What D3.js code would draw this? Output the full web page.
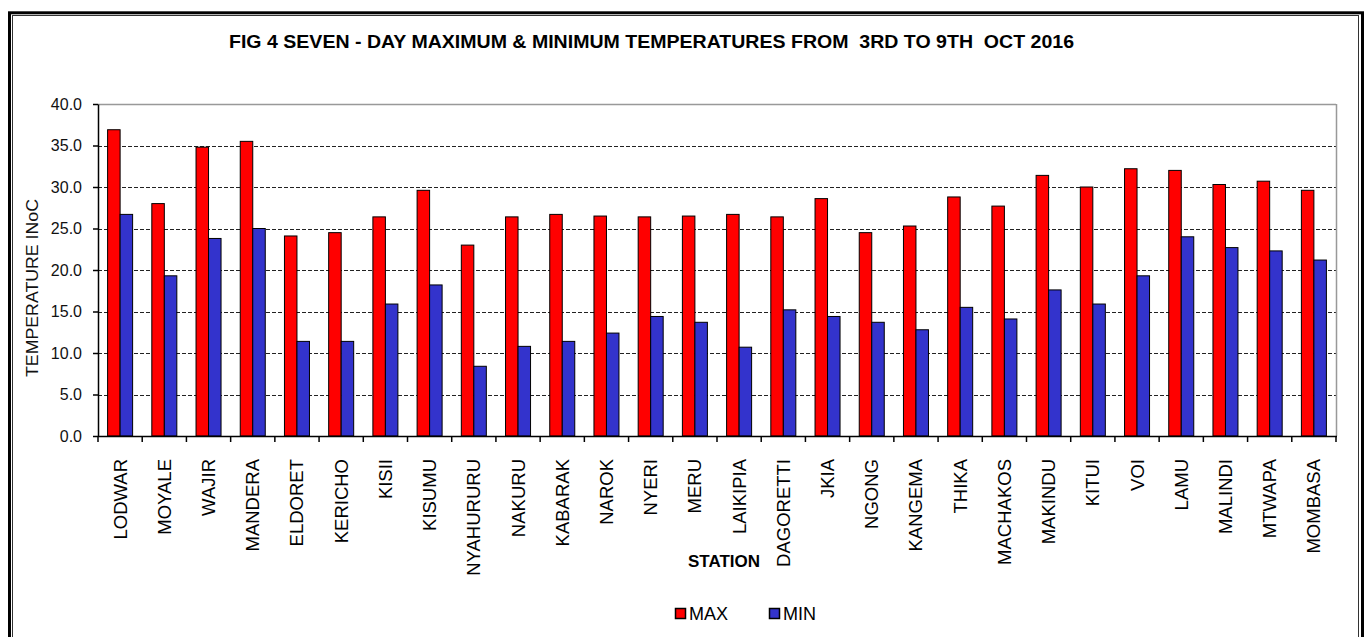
<!DOCTYPE html>
<html>
<head>
<meta charset="utf-8">
<script src="https://cdn.jsdelivr.net/npm/d3@7"></script>
<style>
  html, body { margin: 0; padding: 0; background: #fff; }
  svg { display: block; font-family: "Liberation Sans", Arial, sans-serif; }
</style>
</head>
<body>
<svg id="chart" width="1369" height="637"></svg>
<script>
// ---- data ----
const stations = ["LODWAR","MOYALE","WAJIR","MANDERA","ELDORET","KERICHO","KISII","KISUMU",
  "NYAHURURU","NAKURU","KABARAK","NAROK","NYERI","MERU","LAIKIPIA","DAGORETTI","JKIA",
  "NGONG","KANGEMA","THIKA","MACHAKOS","MAKINDU","KITUI","VOI","LAMU","MALINDI","MTWAPA","MOMBASA"];
const maxTemps = [36.9,28.0,34.8,35.5,24.1,24.5,26.4,29.6,23.0,26.4,26.7,26.5,26.4,26.5,26.7,26.4,
  28.6,24.5,25.3,28.8,27.7,31.4,30.0,32.2,32.0,30.3,30.7,29.6];
const minTemps = [26.7,19.3,23.8,25.0,11.4,11.4,15.9,18.2,8.4,10.8,11.4,12.4,14.4,13.7,10.7,15.2,
  14.4,13.7,12.8,15.5,14.1,17.6,15.9,19.3,24.0,22.7,22.3,21.2];
const seriesNames = ["MAX","MIN"];
const yTicks = [0,5,10,15,20,25,30,35,40];
const titleText = "FIG 4 SEVEN - DAY MAXIMUM & MINIMUM TEMPERATURES FROM  3RD TO 9TH  OCT 2016";
const yTitle = "TEMPERATURE INoC";
const xTitle = "STATION";

// ---- styles ----
const colors = {MAX: "#FF0000", MIN: "#3333CC"};

const svg = d3.select("#chart");
const L = 98, R = 1336, T = 104, B = 436;

// outer double border
svg.append("rect").attr("x", 9.5).attr("y", 12.8).attr("width", 1353).attr("height", 660)
  .attr("fill", "none").attr("stroke", "#000").attr("stroke-width", 3);
svg.append("rect").attr("x", 12.5).attr("y", 15.5).attr("width", 1346).attr("height", 660)
  .attr("fill", "none").attr("stroke", "#333").attr("stroke-width", 1);

const x0 = d3.scaleBand().domain(stations).range([L, R]).paddingInner(0).paddingOuter(0);
const x1 = d3.scaleBand().domain(seriesNames).range([0, x0.bandwidth()]).paddingInner(0).paddingOuter(0.768);
const y = d3.scaleLinear().domain([0, 40]).range([B, T]);

// gridlines
svg.append("g").selectAll("line").data(yTicks.filter(d => d > 0 && d < 40)).join("line")
  .attr("x1", L).attr("x2", R)
  .attr("y1", d => Math.round(y(d)) + 0.5).attr("y2", d => Math.round(y(d)) + 0.5)
  .attr("stroke", "#222").attr("stroke-width", 1.2).attr("stroke-dasharray", "4,2");

// top and right plot border
svg.append("line").attr("x1", L).attr("x2", R).attr("y1", T + 0.5).attr("y2", T + 0.5)
  .attr("stroke", "#999").attr("stroke-width", 1.5);
svg.append("line").attr("x1", R + 0.5).attr("x2", R + 0.5).attr("y1", T).attr("y2", B)
  .attr("stroke", "#999").attr("stroke-width", 1.5);

// bars
const rows = stations.map((s, i) => ({station: s, values: [
  {key: "MAX", value: maxTemps[i]}, {key: "MIN", value: minTemps[i]}]}));
const groups = svg.append("g").selectAll("g").data(rows).join("g")
  .attr("transform", d => `translate(${x0(d.station)},0)`);
groups.selectAll("rect").data(d => d.values).join("rect")
  .attr("x", d => x1(d.key))
  .attr("y", d => y(d.value))
  .attr("width", x1.bandwidth())
  .attr("height", d => B - y(d.value))
  .attr("fill", d => colors[d.key])
  .attr("stroke", "#000").attr("stroke-width", 1);

// left axis
const yAxis = d3.axisLeft(y).tickValues(yTicks).tickFormat(d3.format(".1f"))
  .tickSizeInner(5).tickSizeOuter(0).tickPadding(11);
const ya = svg.append("g").attr("transform", `translate(${L},0)`).call(yAxis);
ya.select(".domain").attr("stroke", "#000").attr("stroke-width", 1.5);
ya.selectAll(".tick line").attr("stroke", "#000").attr("stroke-width", 1.5);
ya.selectAll(".tick text").attr("font-size", 16).attr("fill", "#111")
  .attr("font-family", "'Liberation Sans', Arial, sans-serif");

// bottom axis line + boundary ticks
svg.append("line").attr("x1", L).attr("x2", R + 1).attr("y1", B + 0.5).attr("y2", B + 0.5)
  .attr("stroke", "#000").attr("stroke-width", 1.5);
const bounds = stations.map(s => x0(s)).concat([R]);
svg.append("g").selectAll("line").data(bounds).join("line")
  .attr("x1", d => d).attr("x2", d => d).attr("y1", B).attr("y2", B + 6)
  .attr("stroke", "#000").attr("stroke-width", 1.5);

// category labels
svg.append("g").selectAll("text").data(stations).join("text")
  .attr("transform", d => `translate(${x0(d) + x0.bandwidth() / 2},459) rotate(-90)`)
  .attr("text-anchor", "end").attr("dy", "0.35em")
  .attr("font-size", 18.5).attr("fill", "#000")
  .text(d => d);

// title
svg.append("text").attr("x", 229).attr("y", 48)
  .attr("font-size", 19).attr("font-weight", "bold").attr("fill", "#000")
  .attr("textLength", 845).attr("lengthAdjust", "spacingAndGlyphs")
  .attr("xml:space", "preserve").style("white-space", "pre")
  .text(titleText);

// y title
svg.append("text").attr("transform", "translate(38,288) rotate(-90)")
  .attr("text-anchor", "middle").attr("font-size", 16).attr("fill", "#111")
  .attr("textLength", 178).attr("lengthAdjust", "spacingAndGlyphs")
  .text(yTitle);

// x title
svg.append("text").attr("x", 688).attr("y", 567)
  .attr("font-size", 17).attr("font-weight", "bold").attr("fill", "#000")
  .attr("textLength", 72).attr("lengthAdjust", "spacingAndGlyphs")
  .text(xTitle);

// legend
const legendX = {MAX: 675, MIN: 769};
const lg = svg.append("g").selectAll("g").data(seriesNames).join("g")
  .attr("transform", d => `translate(${legendX[d]},608)`);
lg.append("rect").attr("x", 0.5).attr("y", 0.5).attr("width", 10).attr("height", 10)
  .attr("fill", d => colors[d]).attr("stroke", "#000").attr("stroke-width", 1.5);
lg.append("text").attr("x", 14).attr("y", 12).attr("font-size", 18).attr("fill", "#000")
  .text(d => d);
</script>
</body>
</html>
